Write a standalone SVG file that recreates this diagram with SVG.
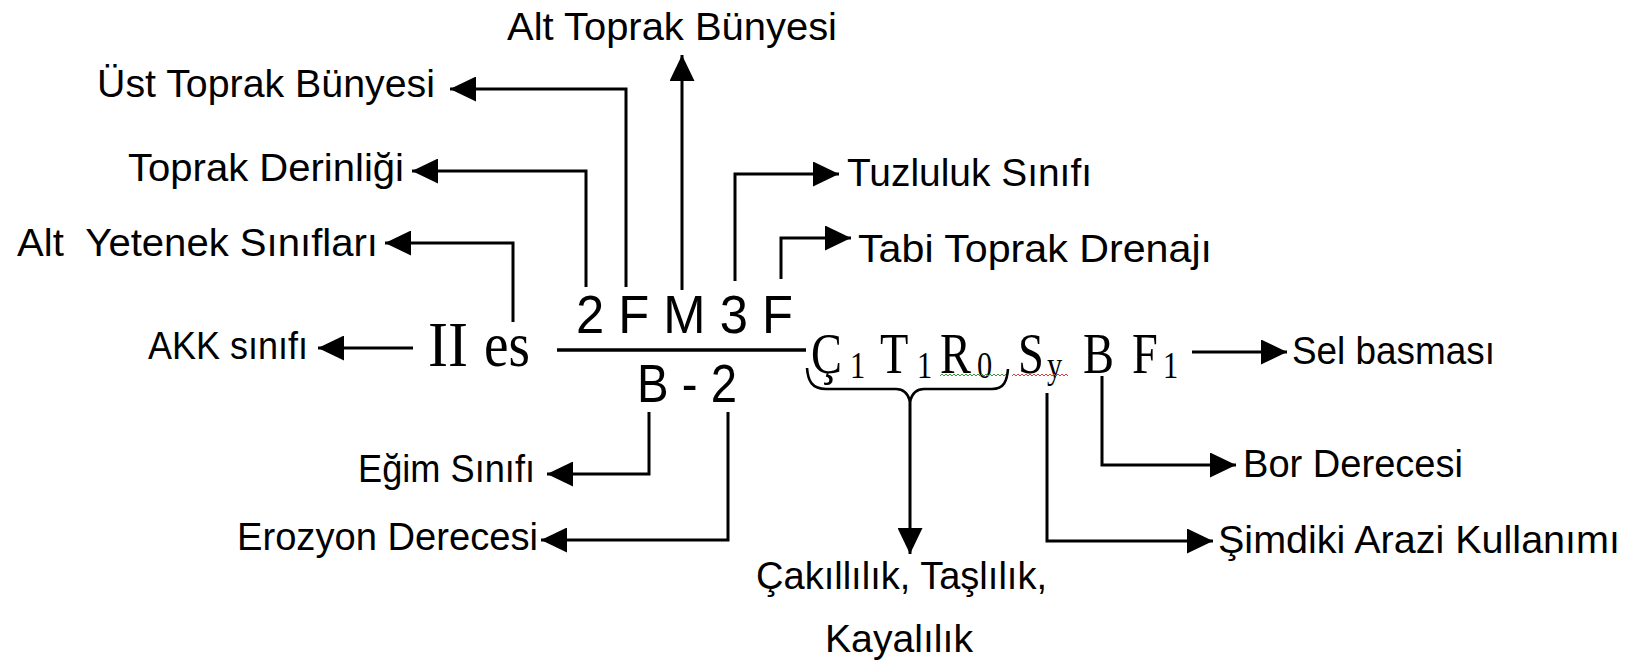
<svg xmlns="http://www.w3.org/2000/svg" width="1633" height="666" viewBox="0 0 1633 666">
<style>
.lbl{font-family:"Liberation Sans",Arial,sans-serif;font-size:38px;fill:#000}
.ser{font-family:"Liberation Serif","Times New Roman",serif;fill:#000}
.sans{font-family:"Liberation Sans",Arial,sans-serif;font-size:53px;fill:#000}
.sub{font-size:38px}
.conn{fill:none;stroke:#000;stroke-width:3}
.brace{fill:none;stroke:#000;stroke-width:2.6}
</style>
<defs>
<marker id="ah" markerUnits="userSpaceOnUse" markerWidth="26" markerHeight="25" refX="26" refY="12.5" orient="auto">
<path d="M0,0 L26,12.5 L0,25 z" fill="#000"/>
</marker>
</defs>
<rect width="1633" height="666" fill="#fff"/>

<g id="connectors">
<path class="conn" d="M513,322 V243 H385" marker-end="url(#ah)"/>
<path class="conn" d="M586,287 V171 H412" marker-end="url(#ah)"/>
<path class="conn" d="M626,287 V89 H450" marker-end="url(#ah)"/>
<path class="conn" d="M682,290 V55" marker-end="url(#ah)"/>
<path class="conn" d="M735,281 V174 H839" marker-end="url(#ah)"/>
<path class="conn" d="M781,279 V238 H851" marker-end="url(#ah)"/>
<path class="conn" d="M413,348 H318" marker-end="url(#ah)"/>
<path class="conn" d="M649,412 V474 H547" marker-end="url(#ah)"/>
<path class="conn" d="M728,412 V540 H541" marker-end="url(#ah)"/>
<path class="conn" d="M910,400 V554" marker-end="url(#ah)"/>
<path class="conn" d="M1047,393 V541 H1213" marker-end="url(#ah)"/>
<path class="conn" d="M1102,376 V465 H1236" marker-end="url(#ah)"/>
<path class="conn" d="M1192,352 H1287" marker-end="url(#ah)"/>
</g>

<g id="formula">
<text class="ser" x="428" y="366" font-size="64" textLength="40" lengthAdjust="spacingAndGlyphs">II</text>
<text class="ser" x="484" y="366" font-size="63" textLength="46" lengthAdjust="spacingAndGlyphs">es</text>
<text class="sans" x="576" y="333" textLength="217" lengthAdjust="spacingAndGlyphs">2 F M 3 F</text>
<line x1="557" y1="350" x2="806" y2="350" stroke="#000" stroke-width="3.5"/>
<text class="sans" x="637" y="402" textLength="100" lengthAdjust="spacingAndGlyphs">B - 2</text>
<text class="ser" font-size="58" transform="scale(0.8 1)" y="373"><tspan x="1013.75">Ç</tspan><tspan class="sub" x="1062.5" y="378">1</tspan> <tspan x="1100" y="373">T</tspan><tspan class="sub" x="1146.25" y="378">1</tspan> <tspan x="1175" y="373">R</tspan><tspan class="sub" x="1221.25" y="378">0</tspan> <tspan x="1272.5" y="373">S</tspan><tspan class="sub" x="1308.75" y="378">y</tspan> <tspan x="1353.75" y="373">B</tspan> <tspan x="1415" y="373">F</tspan><tspan class="sub" x="1453.75" y="378">1</tspan></text>
<path d="M940,376 l2,-2 l2,2 l2,-2 l2,2 l2,-2 l2,2 l2,-2 l2,2 l2,-2 l2,2 l2,-2 l2,2 l2,-2 l2,2 l2,-2 l2,2 l2,-2 l2,2 l2,-2 l2,2 l2,-2 l2,2 l2,-2 l2,2 l2,-2 l2,2 l2,-2 l2,2 l2,-2 l2,2 l2,-2 l2,2 l2,-2 l2,2" fill="none" stroke="#3a9a3a" stroke-width="1"/>
<path d="M1012,376 l2,-2 l2,2 l2,-2 l2,2 l2,-2 l2,2 l2,-2 l2,2 l2,-2 l2,2 l2,-2 l2,2 l2,-2 l2,2 l2,-2 l2,2 l2,-2 l2,2 l2,-2 l2,2 l2,-2 l2,2 l2,-2 l2,2 l2,-2 l2,2 l2,-2 l2,2" fill="none" stroke="#d04040" stroke-width="1"/>
<path class="brace" d="M807,368 C808,381 812,389 826,389 H896 C904,389 908,394 910,401 C912,394 916,389 924,389 H992 C1004,389 1007,381 1008,369"/>
</g>

<g id="n-alt-toprak"><text class="lbl" x="507" y="40" textLength="330" lengthAdjust="spacingAndGlyphs">Alt Toprak Bünyesi</text></g>
<g id="n-ust-toprak"><text class="lbl" x="97" y="97" textLength="338" lengthAdjust="spacingAndGlyphs">Üst Toprak Bünyesi</text></g>
<g id="n-derinlik"><text class="lbl" x="128" y="181" textLength="276" lengthAdjust="spacingAndGlyphs">Toprak Derinliği</text></g>
<g id="n-alt-yetenek"><text class="lbl" x="17" y="256" textLength="361" lengthAdjust="spacingAndGlyphs" style="white-space:pre">Alt  Yetenek Sınıfları</text></g>
<g id="n-akk"><text class="lbl" x="148" y="359" textLength="160" lengthAdjust="spacingAndGlyphs">AKK sınıfı</text></g>
<g id="n-egim"><text class="lbl" x="358" y="482" textLength="177" lengthAdjust="spacingAndGlyphs">Eğim Sınıfı</text></g>
<g id="n-erozyon"><text class="lbl" x="237" y="550" textLength="301" lengthAdjust="spacingAndGlyphs">Erozyon Derecesi</text></g>
<g id="n-tuzluluk"><text class="lbl" x="847" y="186" textLength="245" lengthAdjust="spacingAndGlyphs">Tuzluluk Sınıfı</text></g>
<g id="n-tabi"><text class="lbl" x="858" y="262" textLength="354" lengthAdjust="spacingAndGlyphs">Tabi Toprak Drenajı</text></g>
<g id="n-sel"><text class="lbl" x="1292" y="364" textLength="203" lengthAdjust="spacingAndGlyphs">Sel basması</text></g>
<g id="n-bor"><text class="lbl" x="1243" y="477" textLength="220" lengthAdjust="spacingAndGlyphs">Bor Derecesi</text></g>
<g id="n-simdiki"><text class="lbl" x="1218" y="553" textLength="402" lengthAdjust="spacingAndGlyphs">Şimdiki Arazi Kullanımı</text></g>
<g id="n-cakil">
<text class="lbl" x="756" y="589" textLength="291" lengthAdjust="spacingAndGlyphs">Çakıllılık, Taşlılık,</text>
<text class="lbl" x="825" y="652" textLength="148" lengthAdjust="spacingAndGlyphs">Kayalılık</text>
</g>
</svg>
